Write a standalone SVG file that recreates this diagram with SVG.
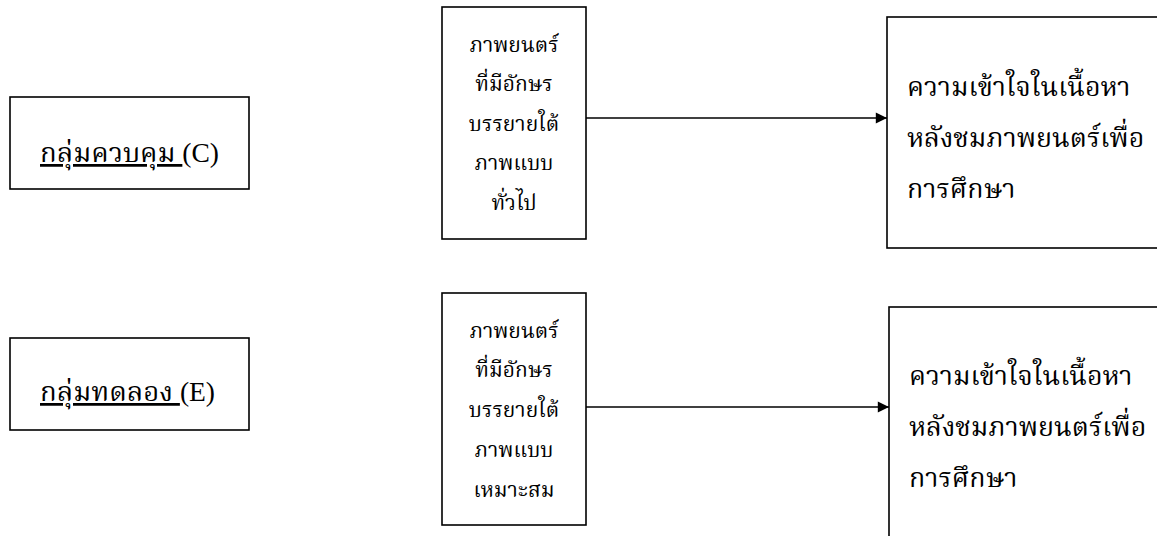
<svg xmlns="http://www.w3.org/2000/svg" width="1157" height="536" viewBox="0 0 1157 536">
<style>
.box{fill:#fff;stroke:#000;stroke-width:1.6}
.t{font-family:"Liberation Serif","Noto Serif Thai","Noto Sans Thai",serif;fill:#000}
.m{font-size:21px;text-anchor:middle}
.r{font-size:26.8px}
.l{font-size:27.5px}
.u{text-decoration:underline}
.edge{stroke:#000;stroke-width:1.6;fill:none}
</style>
<defs>
<marker id="arr" viewBox="0 0 10 10" refX="10" refY="5" markerWidth="7.5" markerHeight="7" orient="auto" markerUnits="strokeWidth">
<path d="M0,0 L10,5 L0,10 z" fill="#000"/>
</marker>
</defs>
<rect width="1157" height="536" fill="#fff"/>
<g id="control">
<rect class="box" x="10" y="97" width="239" height="92"/>
<text class="t l" x="40" y="162"><tspan class="u">กลุ่มควบคุม </tspan>(C)</text>
</g>
<g id="experiment">
<rect class="box" x="10" y="338" width="239" height="92"/>
<text class="t l" x="40" y="401"><tspan class="u">กลุ่มทดลอง </tspan>(E)</text>
</g>
<g id="film-general">
<rect class="box" x="442" y="7" width="144" height="232"/>
<text class="t m" x="514" y="52">ภาพยนตร์</text>
<text class="t m" x="514" y="91">ที่มีอักษร</text>
<text class="t m" x="514" y="131">บรรยายใต้</text>
<text class="t m" x="514" y="170">ภาพแบบ</text>
<text class="t m" x="514" y="210">ทั่วไป</text>
</g>
<g id="film-suitable">
<rect class="box" x="442" y="293" width="144" height="232"/>
<text class="t m" x="514" y="338">ภาพยนตร์</text>
<text class="t m" x="514" y="377">ที่มีอักษร</text>
<text class="t m" x="514" y="417">บรรยายใต้</text>
<text class="t m" x="514" y="457">ภาพแบบ</text>
<text class="t m" x="514" y="497">เหมาะสม</text>
</g>
<g id="understanding-c">
<rect class="box" x="887" y="17" width="290" height="231"/>
<text class="t r" x="907" y="96">ความเข้าใจในเนื้อหา</text>
<text class="t r" x="907" y="147">หลังชมภาพยนตร์เพื่อ</text>
<text class="t r" x="907" y="198">การศึกษา</text>
</g>
<g id="understanding-e">
<rect class="box" x="889" y="307" width="290" height="250"/>
<text class="t r" x="909" y="385">ความเข้าใจในเนื้อหา</text>
<text class="t r" x="909" y="436">หลังชมภาพยนตร์เพื่อ</text>
<text class="t r" x="909" y="487">การศึกษา</text>
</g>
<g id="connectors">
<line class="edge" x1="586" y1="118" x2="887" y2="118" marker-end="url(#arr)"/>
<line class="edge" x1="586" y1="407" x2="889" y2="407" marker-end="url(#arr)"/>
</g>
</svg>
